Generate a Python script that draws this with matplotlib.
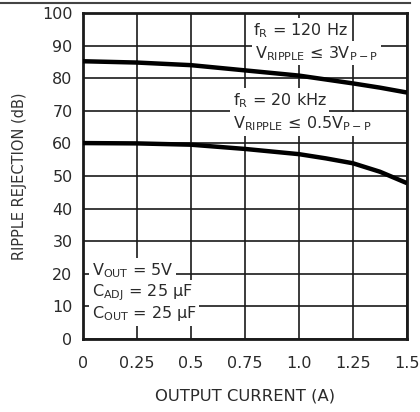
import matplotlib
matplotlib.use("Agg")
import matplotlib.pyplot as plt
from matplotlib.lines import Line2D

plt.rcParams['font.family'] = ['DejaVu Sans']
plt.rcParams['mathtext.default'] = 'regular'

# Data
current = [0.0, 0.25, 0.5, 0.75, 1.0, 1.125, 1.25, 1.375, 1.5]
rr_120hz = [85.2, 84.8, 84.0, 82.4, 80.8, 79.6, 78.4, 77.1, 75.6]
rr_20khz = [60.1, 60.0, 59.6, 58.3, 56.7, 55.4, 53.9, 51.3, 47.8]

xticks = [0, 0.25, 0.5, 0.75, 1.0, 1.25, 1.5]
xticklabels = ["0", "0.25", "0.5", "0.75", "1.0", "1.25", "1.5"]
yticks = list(range(0, 101, 10))

label_120 = ["f$_R$ = 120 Hz", "V$_{RIPPLE}$ ≤ 3V$_{P-P}$"]
label_20k = ["f$_R$ = 20 kHz", "V$_{RIPPLE}$ ≤ 0.5V$_{P-P}$"]
label_cond = ["V$_{OUT}$ = 5V", "C$_{ADJ}$ = 25 μF", "C$_{OUT}$ = 25 μF"]

ink = '#1a1a1a'

fig = plt.figure(figsize=(4.2, 4.12), dpi=100)
ax = fig.add_axes([83/420, 1-339/412, (407-83)/420, (339-13)/412])

ax.set_xlim(0, 1.5)
ax.set_ylim(0, 100)
ax.set_xticks(xticks)
ax.set_xticklabels(xticklabels)
ax.set_yticks(yticks)
ax.grid(True, color=ink, lw=1.2)
ax.set_axisbelow(True)
for s in ax.spines.values():
    s.set_linewidth(2.0)
    s.set_color(ink)
ax.tick_params(length=0, labelsize=11.5, colors='#2a2a2a')
ax.tick_params(axis='x', pad=12)
ax.tick_params(axis='y', pad=7.5)

ax.plot(current, rr_120hz, color='black', lw=3.2, zorder=5, solid_capstyle='butt')
ax.plot(current, rr_20khz, color='black', lw=3.2, zorder=5, solid_capstyle='butt')

ax.set_xlabel("OUTPUT CURRENT (A)", fontsize=11.8, labelpad=13, color='#2a2a2a')
ax.set_ylabel("RIPPLE REJECTION (dB)", fontsize=10.5, labelpad=11, color='#333333')

box = dict(facecolor='white', edgecolor='none', pad=2.0)
tk = dict(ha='left', va='baseline', fontsize=11.5, bbox=box, zorder=4, color='#2a2a2a')

ax.text(0.787, 93.3, label_120[0], **tk)
ax.text(0.796, 86.2, label_120[1], **tk)
ax.text(0.693, 71.8, label_20k[0], **tk)
ax.text(0.695, 64.6, label_20k[1], **tk)
ax.text(0.040, 19.6, label_cond[0], **tk)
ax.text(0.040, 13.0, label_cond[1], **tk)
ax.text(0.040, 6.3, label_cond[2], **tk)

fig.add_artist(Line2D([0, 0.975], [1-2.5/412, 1-2.5/412], transform=fig.transFigure,
                      color='#444444', lw=1.5))

fig.savefig("out.png", dpi=100)
